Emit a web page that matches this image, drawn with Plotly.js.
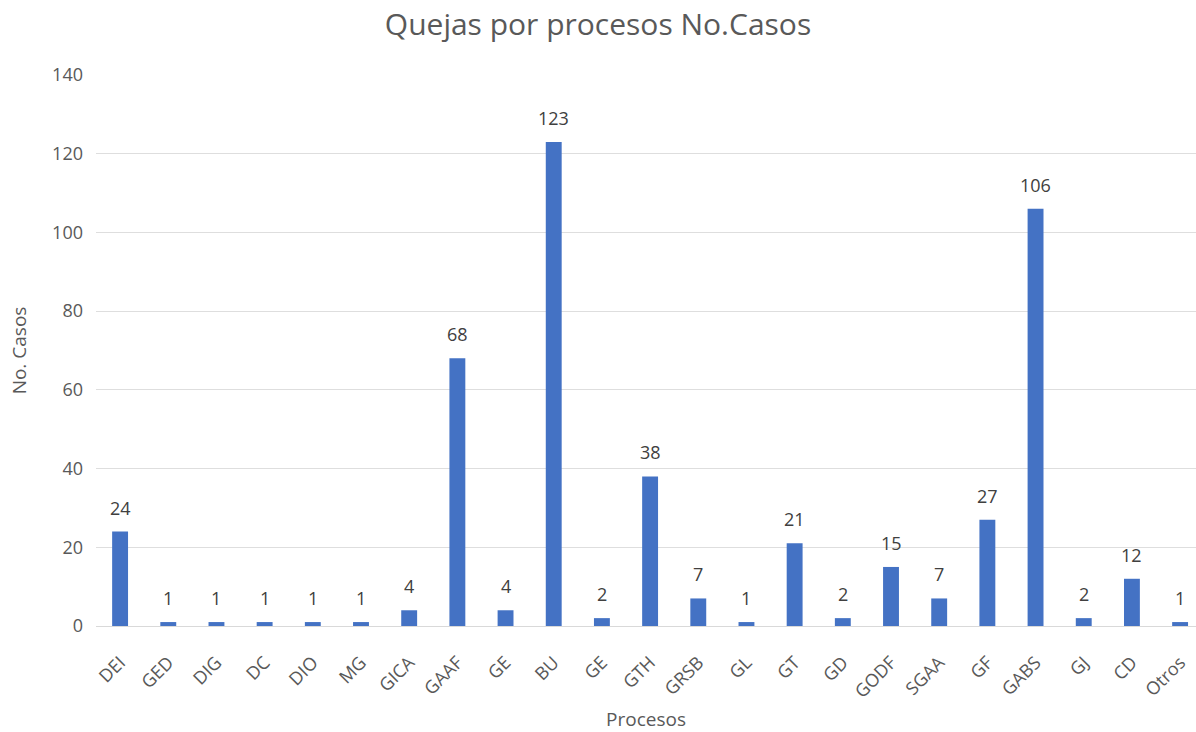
<!DOCTYPE html>
<html>
<head>
<meta charset="utf-8">
<script src="https://cdn.plot.ly/plotly-3.0.1.min.js"></script>
<style>
  html, body { margin: 0; padding: 0; background: #fff; }
  #chart { width: 1196px; height: 732px; }
</style>
</head>
<body>
<div id="chart"></div>
<script>
// Process codes (GE appears twice, so positions are indexed)
const procesos = ["DEI", "GED", "DIG", "DC", "DIO", "MG", "GICA", "GAAF", "GE", "BU", "GE",
  "GTH", "GRSB", "GL", "GT", "GD", "GODF", "SGAA", "GF", "GABS", "GJ", "CD", "Otros"];
const casos = [24, 1, 1, 1, 1, 1, 4, 68, 4, 123, 2, 38, 7, 1, 21, 2, 15, 7, 27, 106, 2, 12, 1];
const posiciones = procesos.map((_, i) => i);
const yTicks = [0, 20, 40, 60, 80, 100, 120, 140];

const fontFam = "'Open Sans', 'Noto Sans', sans-serif";

const trace = {
  type: "bar",
  x: posiciones,
  y: casos,
  marker: { color: "#4472C4" },
  hoverinfo: "x+y"
};

// Value labels above each bar
const etiquetas = posiciones.map((p, i) => ({
  x: p,
  y: casos[i],
  xref: "x",
  yref: "y",
  text: String(casos[i]),
  showarrow: false,
  xanchor: "center",
  yanchor: "middle",
  yshift: 24,
  font: { family: fontFam, size: 18, color: "#404040" }
}));

const layout = {
  width: 1196,
  height: 732,
  margin: { l: 96, r: 0, t: 75, b: 106 },
  paper_bgcolor: "#ffffff",
  plot_bgcolor: "#ffffff",
  bargap: 0.67,
  showlegend: false,
  annotations: etiquetas,
  title: {
    text: "Quejas por procesos No.Casos",
    font: { family: fontFam, size: 30, color: "#595959" },
    x: 0.5, xanchor: "center",
    y: 0.967, yanchor: "middle"
  },
  xaxis: {
    range: [-0.5, 22.33],
    tickmode: "array",
    tickvals: posiciones,
    ticktext: procesos,
    tickangle: -45,
    tickfont: { family: fontFam, size: 18, color: "#595959" },
    ticklabelstandoff: 18,
    showgrid: false,
    zeroline: false,
    showline: true,
    linecolor: "#d9d9d9",
    linewidth: 1,
    ticks: "",
    title: {
      text: "Procesos",
      font: { family: fontFam, size: 19, color: "#595959" },
      standoff: 40
    }
  },
  yaxis: {
    range: [0, 140],
    tickmode: "array",
    tickvals: yTicks,
    tickfont: { family: fontFam, size: 18, color: "#595959" },
    ticklabelstandoff: 12,
    showgrid: true,
    gridcolor: "#dedede",
    gridwidth: 1,
    zeroline: false,
    showline: false,
    ticks: "",
    title: {
      text: "No. Casos",
      font: { family: fontFam, size: 19, color: "#595959" },
      standoff: 20
    }
  }
};

Plotly.newPlot("chart", [trace], layout, { displayModeBar: false, staticPlot: true });
</script>
</body>
</html>
